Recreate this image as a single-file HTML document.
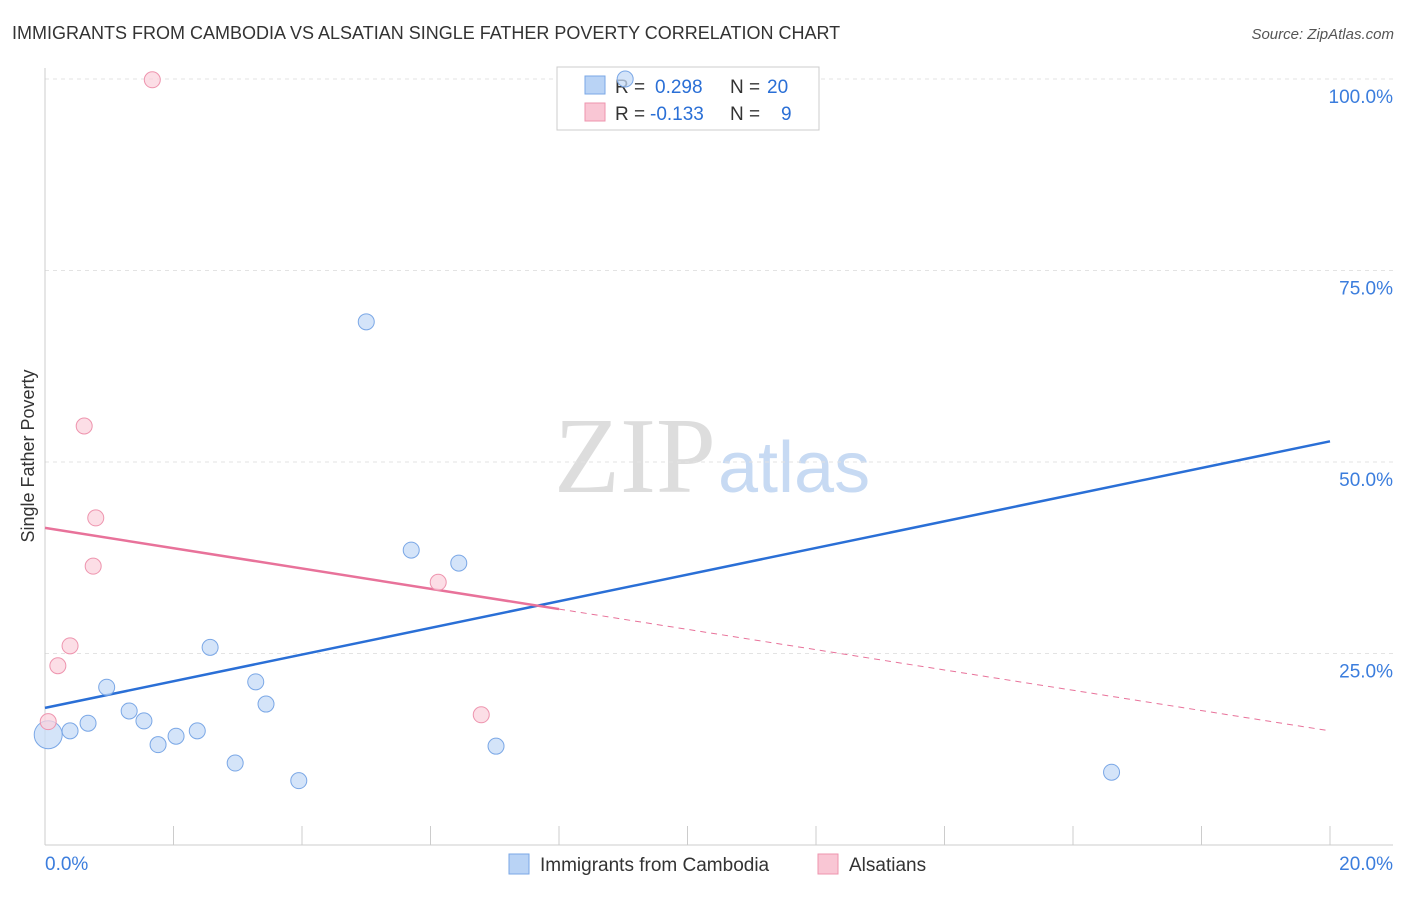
<!DOCTYPE html>
<html><head><meta charset="utf-8"><style>
body{margin:0;background:#fff;font-family:"Liberation Sans",sans-serif;}
</style></head><body>
<svg id="chart" width="1406" height="892" xmlns="http://www.w3.org/2000/svg">
<text x="12" y="39" font-size="18" fill="#333">IMMIGRANTS FROM CAMBODIA VS ALSATIAN SINGLE FATHER POVERTY CORRELATION CHART</text>
<text x="1394" y="39" font-size="15" fill="#555" font-style="italic" text-anchor="end">Source: ZipAtlas.com</text>
<text x="34" y="456" font-size="18" fill="#333" transform="rotate(-90 34 456)" text-anchor="middle">Single Father Poverty</text>
<text x="716" y="492" font-size="108" fill="#ddd" text-anchor="end" font-family="Liberation Serif,serif">ZIP</text>
<text x="718" y="492" font-size="72" fill="#c7daf3">atlas</text>
<g id="grid"></g><g id="axes"></g>
<g>
<rect x="557" y="67" width="262" height="63" fill="#fff" stroke="#ccc"/>
<rect x="585" y="76" width="20" height="18" fill="#b9d3f5" stroke="#7aa7e6"/>
<text x="615" y="93" font-size="19" fill="#333">R = </text><text x="655" y="93" font-size="19" fill="#2a6fd6">0.298</text>
<text x="730" y="93" font-size="19" fill="#333">N = </text><text x="767" y="93" font-size="19" fill="#2a6fd6">20</text>
<rect x="585" y="103" width="20" height="18" fill="#f9c6d4" stroke="#ee94ae"/>
<text x="615" y="120" font-size="19" fill="#333">R = </text><text x="650" y="120" font-size="19" fill="#2a6fd6">-0.133</text>
<text x="730" y="120" font-size="19" fill="#333">N = </text><text x="781" y="120" font-size="19" fill="#2a6fd6">9</text>
</g>
<g id="lines"></g><g id="points"></g>
<g>
<rect x="509" y="854" width="20" height="20" fill="#b9d3f5" stroke="#7aa7e6"/>
<text x="540" y="871" font-size="19" fill="#333">Immigrants from Cambodia</text>
<rect x="818" y="854" width="20" height="20" fill="#f9c6d4" stroke="#ee94ae"/>
<text x="849" y="871" font-size="19" fill="#333">Alsatians</text>
</g>
</svg>
<script>
const blueX=[0.05,0.39,0.67,0.96,1.31,1.54,1.76,2.04,2.37,2.57,2.96,3.28,3.44,3.95,5.0,5.7,6.44,7.02,16.6,9.03];
const blueY=[14.4,14.9,15.9,20.6,17.5,16.2,13.1,14.2,14.9,25.8,10.7,21.3,18.4,8.4,68.3,38.5,36.8,12.9,9.5,100];
const pinkX=[1.67,0.61,0.79,0.75,0.39,0.2,0.05,6.12,6.79];
const pinkY=[99.9,54.7,42.7,36.4,26.0,23.4,16.1,34.3,17.0];
const blueTrend=[17.9,52.7];
const pinkTrend=[41.4,14.9];
const yTicks=[25,50,75,100];
const yTickLabels=["25.0%","50.0%","75.0%","100.0%"];
const NS="http://www.w3.org/2000/svg";
const sx=v=>45+v/20*1285, sy=v=>845-v/100*766;
function mk(tag,attrs,parent){const e=document.createElementNS(NS,tag);for(const k in attrs)e.setAttribute(k,attrs[k]);document.getElementById(parent).appendChild(e);return e;}
yTicks.forEach((t,i)=>{
 const g=mk('line',{x1:45,x2:1393,y1:sy(t),y2:sy(t),stroke:'#e3e3e3','stroke-dasharray':'4 4'},'grid');
 
 
 const l=mk('text',{x:1393,y:sy(t)+24,'font-size':19,fill:'#3b7ddd','text-anchor':'end'},'grid');
 l.textContent=yTickLabels[i];
 
 
});
const ax=mk('line',{x1:45,x2:45,y1:68,y2:845,stroke:'#ccc'},'axes');


const bx=mk('line',{x1:45,x2:1393,y1:845,y2:845,stroke:'#ccc'},'axes');


for(let i=1;i<=10;i++){const t=mk('line',{x1:sx(i*2),x2:sx(i*2),y1:826,y2:845,stroke:'#ccc'},'axes');
 
 }
[[0,"0.0%","start",45],[20,"20.0%","end",1393]].forEach(a=>{const t=mk('text',{x:a[3],y:870,'font-size':19,fill:'#3b7ddd','text-anchor':a[2]},'axes');t.textContent=a[1];
 
 });
function pt(x,y,r,fill,stroke,name){const c=mk('circle',{cx:sx(x),cy:sy(y),r:r,fill:fill,stroke:stroke,'fill-opacity':0.75},'points');
 
 }
blueX.forEach((x,i)=>pt(x,blueY[i],i==0?14:8,'#c5dbf7','#7aa7e6','cambodia-point'));
pinkX.forEach((x,i)=>pt(x,pinkY[i],8,'#fbd3de','#ee94ae','alsatian-point'));
const bl=mk('line',{x1:sx(0),y1:sy(blueTrend[0]),x2:sx(20),y2:sy(blueTrend[1]),stroke:'#2a6fd6','stroke-width':2.5},'lines');


const pm=pinkTrend[0]+(pinkTrend[1]-pinkTrend[0])*0.4;
const pl=mk('line',{x1:sx(0),y1:sy(pinkTrend[0]),x2:sx(8),y2:sy(pm),stroke:'#e8729a','stroke-width':2.5},'lines');


const pd=mk('line',{x1:sx(8),y1:sy(pm),x2:sx(20),y2:sy(pinkTrend[1]),stroke:'#e8729a','stroke-width':1,'stroke-dasharray':'6 5'},'lines');


</script>
</body></html>
